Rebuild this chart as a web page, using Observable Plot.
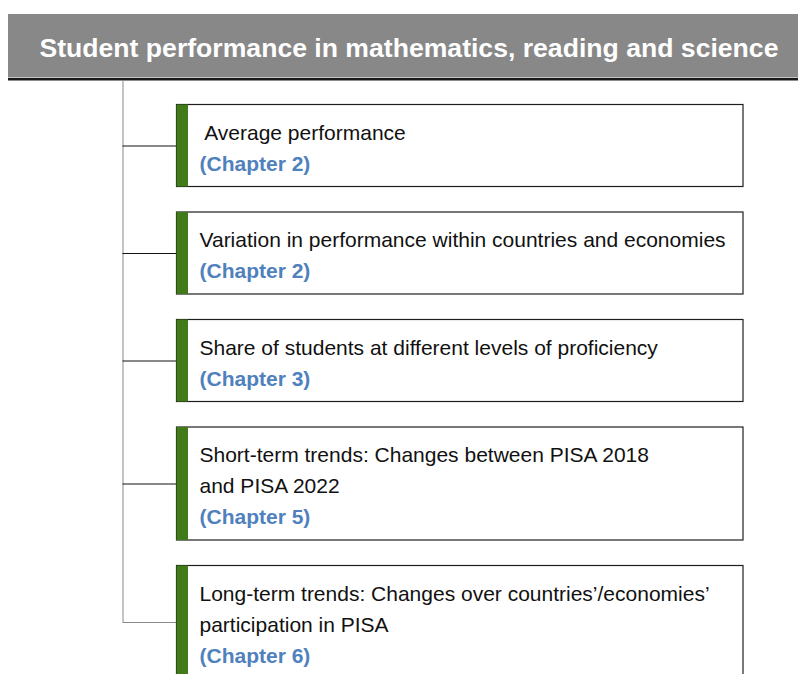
<!DOCTYPE html>
<html><head><meta charset="utf-8">
<script src="https://cdn.jsdelivr.net/npm/d3@7"></script>
<script src="https://cdn.jsdelivr.net/npm/@observablehq/plot@0.6"></script>
<style>html,body{margin:0;padding:0;background:#fff;overflow:hidden;}</style>
</head><body><div id="chart"></div>
<script>
// ---- content ----
const title = "Student performance in mathematics, reading and science";
const topics = [
  [" Average performance"],
  ["Variation in performance within countries and economies"],
  ["Share of students at different levels of proficiency"],
  ["Short-term trends: Changes between PISA 2018", "and PISA 2022"],
  ["Long-term trends: Changes over countries\u2019/economies\u2019", "participation in PISA"]
];
const chapters = [2, 2, 3, 5, 6];

// ---- layout (computed) ----
const W = 798, H = 674;
const header = {x1: 8, x2: 798, y1: 14, y2: 77.5};
const trunkX = 122.5, boxX1 = 176.5, boxX2 = 743, barW = 11.5, textX = 199;
const firstTop = 104.5, gap = 25.5, baseH = 82, lineStep = 31, firstBase = 34.5;

let cursor = firstTop;
const boxes = topics.map((lines, i) => {
  const h = baseH + lineStep * (lines.length - 1);
  const b = {i, top: cursor, bottom: cursor + h, mid: cursor + h / 2, lines, chapter: chapters[i]};
  cursor += h + gap;
  return b;
});
const lastBox = boxes[boxes.length - 1];
const textRows = boxes.flatMap(b => [
  ...b.lines.map((t, j) => ({text: t, y: b.top + firstBase + j * lineStep, kind: "topic"})),
  {text: `(Chapter ${b.chapter})`, y: b.top + firstBase + b.lines.length * lineStep, kind: "chapter"}
]);

const plot = Plot.plot({
  width: W, height: H, margin: 0,
  style: {fontFamily: "'Liberation Sans', Arial, sans-serif", background: "white"},
  x: {domain: [0, W], range: [0, W], axis: null},
  y: {domain: [0, H], range: [0, H], axis: null},
  marks: [
    Plot.rect([header], {x1: "x1", x2: "x2", y1: "y1", y2: "y2", fill: "#888888"}),
    Plot.ruleY([header.y2 + 1.2], {x1: header.x1, x2: header.x2, stroke: "#1a1a1a", strokeWidth: 2.6}),
    Plot.ruleX([trunkX], {y1: header.y2 + 2.5, y2: lastBox.mid, stroke: "#8a8a8a", strokeWidth: 1}),
    Plot.ruleY(boxes.filter(b => b !== lastBox), {y: "mid", x1: trunkX, x2: boxX1, stroke: "#111", strokeWidth: 1}),
    Plot.ruleY([lastBox], {y: "mid", x1: trunkX, x2: boxX1, stroke: "#8a8a8a", strokeWidth: 1.2}),
    Plot.rect(boxes, {x1: boxX1, x2: boxX2, y1: "top", y2: "bottom", fill: "white", stroke: "#1e1e1e", strokeWidth: 1.2}),
    Plot.rect(boxes, {x1: boxX1, x2: boxX1 + barW, y1: "top", y2: "bottom", fill: "#417a18"}),
    Plot.text(textRows.filter(d => d.kind === "topic"), {
      x: textX, y: "y", text: "text", textAnchor: "start", lineAnchor: "bottom",
      fontSize: 21, fill: "#111"
    }),
    Plot.text(textRows.filter(d => d.kind === "chapter"), {
      x: textX, y: "y", text: "text", textAnchor: "start", lineAnchor: "bottom",
      fontSize: 21, fontWeight: "bold", fill: "#4f81bd"
    }),
    Plot.text([title], {
      x: 39, y: 56, text: d => d, textAnchor: "start", lineAnchor: "bottom",
      fontSize: 26.6, fontWeight: "bold", fill: "white"
    })
  ]
});
document.getElementById("chart").appendChild(plot);
</script>
</body></html>
